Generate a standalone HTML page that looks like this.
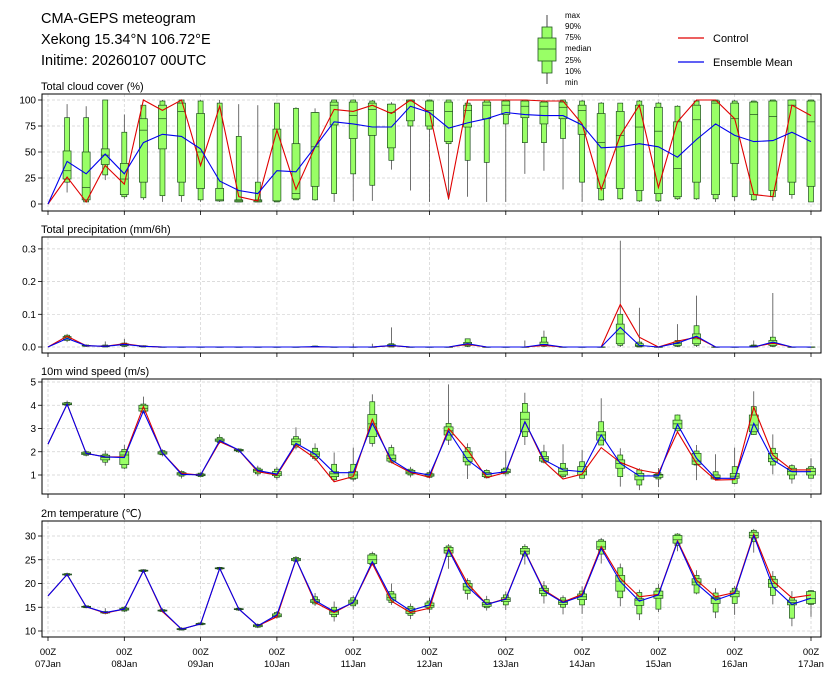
<!DOCTYPE html>
<html><head><meta charset="utf-8">
<style>
html,body{margin:0;padding:0;background:#fff;}
svg{display:block;font-family:"Liberation Sans","DejaVu Sans",sans-serif;}
</style></head>
<body>
<svg id="chart" width="839" height="680" viewBox="0 0 839 680" xmlns="http://www.w3.org/2000/svg">
  <g font-size="14.5" fill="#000">
    <text x="41" y="23">CMA-GEPS meteogram</text>
    <text x="41" y="44">Xekong 15.34°N 106.72°E</text>
    <text x="41" y="65">Initime: 20260107 00UTC</text>
  </g>
  <g>
    <line x1="547" y1="15" x2="547" y2="84" stroke="#444" stroke-width="1"/>
    <rect x="542" y="27" width="10" height="46" fill="#99ff66" stroke="#225522" stroke-width="0.8"/>
    <rect x="538" y="38" width="18" height="23" fill="#99ff66" stroke="#225522" stroke-width="0.8"/>
    <line x1="538" y1="49" x2="556" y2="49" stroke="#225522" stroke-width="0.8"/>
    <g font-size="8" fill="#000">
      <text x="565" y="18">max</text><text x="565" y="29">90%</text><text x="565" y="40">75%</text>
      <text x="565" y="51">median</text><text x="565" y="63">25%</text><text x="565" y="74">10%</text><text x="565" y="85">min</text>
    </g>
  </g>
  <g font-size="11">
    <line x1="678" y1="38" x2="704" y2="38" stroke="#e00000" stroke-width="1.2"/>
    <text x="713" y="42">Control</text>
    <line x1="678" y1="62" x2="704" y2="62" stroke="#0000ee" stroke-width="1.2"/>
    <text x="713" y="66">Ensemble Mean</text>
  </g>
</svg>
<script>
// ---- data ----
const dayLabels = ["07Jan","08Jan","09Jan","10Jan","11Jan","12Jan","13Jan","14Jan","15Jan","16Jan","17Jan"];
const cloudCtrl = [0,26,2,37,19,100,90,100,37,94,7,3,71,14,55,91,89,95,87,100,88,5,100,100,100,100,99,99,77,14,66,95,16,79,100,100,82,9,7,95,85];
const cloudMean = [0,41,29,48,29,59,67,65,53,22,13,10,32,31,55,79,77,74,74,94,88,73,78,82,88,86,85,85,76,54,55,58,55,45,62,77,66,60,61,69,60];
const cloudBox = [null,
 [11,21,24,32,51,83,96],[2,2,4,16,50,83,94],[23,28,38,47,53,100,100],[5,7,9,24,39,69,86],[4,6,21,71,82,95,95],
 [2,8,53,82,95,99,100],[2,8,21,89,97,100,100],[2,4,15,50,87,99,100],[2,3,3,4,15,97,100],[2,2,2,3,4,65,96],
 [2,2,2,3,4,21,95],[2,2,3,3,72,97,97],[4,4,5,10,58,92,93],[3,4,17,55,88,88,92],[2,10,76,95,98,100,100],
 [3,29,63,85,98,100,100],[3,18,66,91,97,99,100],[33,42,54,88,96,96,98],[13,75,80,99,100,100,100],[2,72,75,90,99,100,100],
 [4,58,60,89,98,100,100],[7,42,74,90,95,97,100],[2,40,82,95,98,100,100],[2,77,86,95,99,100,100],[29,59,83,94,99,100,100],
 [32,59,77,94,98,99,99],[14,63,82,93,98,100,100],[2,21,67,90,95,99,100],[3,4,15,59,87,97,98],[4,5,15,66,89,97,97],
 [2,3,13,74,95,99,100],[2,3,10,70,93,97,98],[4,5,7,34,79,94,95],[4,5,21,81,95,99,100],[2,5,9,97,99,100,100],
 [3,7,39,82,97,99,100],[3,4,9,86,98,99,99],[3,7,13,84,99,100,100],[5,9,21,95,100,100,100],[2,2,17,79,99,100,100]];
const precipCtrl = [0,0.033,0.004,0.002,0.01,0.002,0,0,0,0,0,0,0,0,0,0,0,0,0.004,0,0,0,0.008,0,0,0,0.005,0,0,0,0.13,0.03,0,0.018,0.03,0,0,0,0.012,0,0];
const precipMean = [0,0.026,0.004,0.002,0.008,0.002,0,0,0,0,0,0,0,0,0.001,0,0,0,0.005,0,0,0,0.01,0,0,0,0.008,0,0,0,0.06,0.005,0,0.012,0.033,0,0,0,0.015,0,0];
const Z = [0,0,0,0,0,0,0];
const precipBox = [null,
 [0.015,0.02,0.024,0.028,0.032,0.036,0.04],[0,0.002,0.003,0.004,0.005,0.006,0.008],[0,0,0.001,0.002,0.004,0.006,0.017],[0,0.002,0.004,0.007,0.01,0.012,0.025],[0,0,0.001,0.002,0.003,0.004,0.005],
 Z,Z,Z,Z,Z,Z,Z,Z,[0,0,0,0.001,0.002,0.003,0.004],Z,
 [0,0,0,0,0,0,0.01],[0,0,0,0,0,0,0.01],[0,0,0.002,0.004,0.007,0.01,0.06],Z,Z,
 Z,[0,0.002,0.005,0.01,0.014,0.025,0.025],Z,Z,[0,0,0,0,0,0,0.02],
 [0,0.002,0.004,0.008,0.015,0.03,0.05],Z,Z,Z,[0,0.005,0.01,0.04,0.07,0.1,0.325],
 [0,0,0.002,0.005,0.01,0.015,0.12],Z,[0,0.002,0.005,0.01,0.015,0.02,0.07],[0,0.005,0.01,0.025,0.04,0.065,0.157],Z,
 Z,[0,0,0,0.002,0.004,0.006,0.02],[0,0.002,0.005,0.01,0.02,0.03,0.165],Z,Z];
const windCtrl = [2.33,4.05,1.93,1.78,1.78,3.94,1.95,1.07,1.0,2.43,2.07,1.14,1.0,2.29,1.72,0.71,0.93,3.39,1.54,1.11,0.9,3.0,2.07,0.89,1.11,3.29,1.57,0.83,1.04,2.18,1.54,1.22,1.07,2.86,1.5,0.78,0.8,3.91,1.86,1.22,1.22];
const windMean = [2.33,4.05,1.93,1.78,1.75,3.75,1.95,1.03,1.0,2.48,2.07,1.19,1.04,2.36,1.9,1.1,1.1,3.22,1.65,1.14,1.0,2.89,1.65,1.03,1.14,3.29,1.65,1.22,1.14,2.72,1.5,0.96,0.96,3.18,1.72,0.86,0.86,3.22,1.65,1.14,1.14];
const windBox = [null,
 [3.95,4.0,4.02,4.05,4.1,4.12,4.2],[1.8,1.85,1.88,1.93,1.98,2.0,2.05],[1.4,1.55,1.65,1.75,1.85,1.9,2.05],[1.26,1.3,1.45,1.86,2.0,2.1,2.3],[3.65,3.7,3.75,3.87,4.0,4.05,4.37],
 [1.8,1.87,1.9,1.95,2.0,2.05,2.1],[0.85,0.95,1.0,1.05,1.1,1.15,1.2],[0.9,0.93,0.97,1.0,1.04,1.08,1.12],[2.35,2.4,2.45,2.5,2.55,2.62,2.75],[1.95,2.0,2.04,2.07,2.1,2.12,2.15],
 [0.95,1.05,1.12,1.2,1.25,1.3,1.4],[0.8,0.9,0.97,1.05,1.15,1.25,1.35],[2.1,2.2,2.3,2.43,2.55,2.65,3.05],[1.6,1.7,1.8,1.9,2.0,2.15,2.36],[0.72,0.8,0.93,1.05,1.14,1.46,1.97],
 [0.72,0.82,0.86,1.0,1.14,1.46,2.18],[2.22,2.36,2.65,3.2,3.6,4.15,4.47],[1.5,1.55,1.6,1.7,1.86,2.18,2.3],[0.9,1.0,1.05,1.12,1.2,1.25,1.35],[0.85,0.9,0.95,1.0,1.05,1.1,1.2],
 [2.29,2.5,2.72,2.9,3.07,3.22,4.9],[0.83,1.43,1.57,1.75,2.0,2.18,2.36],[0.85,0.88,0.93,1.03,1.1,1.2,1.25],[0.95,1.05,1.1,1.15,1.25,1.3,2.03],[2.29,2.65,2.86,3.4,3.7,4.08,4.54],
 [1.5,1.55,1.6,1.7,1.8,2.0,2.3],[0.86,0.93,1.0,1.15,1.29,1.5,2.32],[0.86,0.86,1.0,1.14,1.36,1.57,2.07],[2.29,2.29,2.5,2.72,2.86,3.29,4.3],[0.5,0.93,1.29,1.5,1.65,1.86,2.15],
 [0.35,0.57,0.79,0.95,1.07,1.22,1.29],[0.48,0.83,0.9,1.0,1.03,1.1,1.3],[2.79,2.9,3.0,3.2,3.36,3.58,3.6],[0.78,1.43,1.46,1.6,1.93,2.03,2.29],[0.76,0.82,0.83,0.9,1.0,1.14,1.89],
 [0.6,0.64,0.86,0.95,1.07,1.36,2.18],[2.72,2.74,2.86,3.15,3.58,3.94,4.6],[1.03,1.43,1.57,1.7,1.93,2.15,2.75],[0.63,0.83,1.0,1.15,1.29,1.4,1.46],[0.86,0.86,1.0,1.15,1.29,1.36,1.72]];
const tempCtrl = [17.4,21.9,15.1,13.8,14.6,22.7,14.1,10.4,11.5,23.2,14.6,11.1,13.0,25.1,16.0,13.9,16.0,24.2,16.3,13.9,14.8,27.4,20.0,15.6,16.8,26.8,18.6,16.1,17.7,27.8,21.1,17.2,17.7,29.0,20.7,17.2,18.1,30.4,20.5,17.0,17.6];
const tempMean = [17.4,21.9,15.1,13.9,14.6,22.7,14.3,10.4,11.5,23.2,14.6,11.1,13.4,25.1,16.4,14.1,16.0,24.6,16.9,14.3,15.5,27.1,19.3,15.6,16.7,26.7,18.4,16.0,17.4,27.4,20.4,16.3,17.6,28.8,20.0,16.5,17.9,30.1,19.3,15.6,16.9];
const tempBox = [null,
 [21.5,21.7,21.8,21.9,22.0,22.1,22.3],[14.8,14.9,15.0,15.1,15.2,15.3,15.4],[13.5,13.7,13.8,13.9,14.0,14.1,14.8],[14.0,14.2,14.4,14.6,14.8,15.0,15.2],[22.3,22.5,22.6,22.7,22.8,22.9,23.0],
 [13.9,14.1,14.2,14.3,14.4,14.5,14.8],[10.1,10.2,10.3,10.4,10.5,10.6,10.8],[11.2,11.3,11.4,11.5,11.6,11.7,11.9],[22.9,23.0,23.1,23.2,23.3,23.4,23.5],[14.2,14.4,14.5,14.6,14.7,14.8,15.0],
 [10.6,10.8,10.9,11.1,11.3,11.4,11.6],[12.6,12.9,13.0,13.2,13.6,13.9,14.2],[24.5,24.7,24.8,25.0,25.3,25.5,25.8],[15.3,15.7,16.0,16.3,16.6,17.2,18.0],[12.0,13.0,13.5,14.0,14.4,15.0,16.2],
 [14.5,15.3,15.7,16.1,16.5,17.0,17.5],[23.8,24.0,24.2,25.0,26.0,26.3,26.7],[15.5,16.0,16.5,17.0,17.8,18.3,20.0],[12.5,13.3,13.7,14.2,14.8,15.2,15.8],[13.8,14.6,15.0,15.4,15.9,16.3,17.0],
 [23.1,25.7,26.4,26.9,27.6,27.9,28.3],[16.6,17.9,18.6,19.3,20.0,20.6,21.1],[14.3,14.9,15.2,15.6,16.0,16.6,17.4],[14.4,15.5,16.2,16.6,17.0,17.6,18.3],[24.0,25.8,26.2,26.8,27.4,27.8,28.3],
 [15.8,17.4,17.9,18.5,19.0,19.5,20.5],[13.5,15.0,15.6,16.0,16.5,17.0,17.5],[13.6,15.5,16.6,17.2,17.8,18.4,19.4],[24.2,26.2,27.2,27.7,28.9,29.2,29.6],[15.2,17.0,18.4,20.5,21.7,23.3,24.2],
 [12.3,13.6,15.4,16.5,16.8,18.1,18.7],[14.0,14.6,16.9,17.5,18.4,19.0,19.9],[26.8,28.0,28.5,29.2,30.1,30.4,30.6],[17.7,18.0,19.7,20.3,21.0,21.7,22.8],[12.7,14.0,15.8,16.8,17.0,18.0,19.0],
 [13.4,15.8,17.2,17.9,18.4,19.0,19.5],[26.5,28.8,29.6,30.1,30.8,31.2,31.5],[15.6,17.5,19.2,20.0,20.9,21.5,22.6],[11.0,12.7,15.5,16.0,16.5,17.0,18.4],[13.0,15.6,15.8,16.8,18.3,18.5,18.6]];
const cloudTicks = [0,25,50,75,100];
const precipTicks = [0,0.1,0.2,0.3];
const windTicks = [1,2,3,4,5];
const tempTicks = [10,15,20,25,30];

// ---- layout ----
const NS = "http://www.w3.org/2000/svg";
const svg = document.getElementById("chart");
const X0 = 48, X1 = 811, LEFT = 42, RIGHT = 821;
function xAt(step){ return X0 + (X1 - X0) * step / 40; }
function mk(tag, attrs, parent){
  const el = document.createElementNS(NS, tag);
  for (const k in attrs) el.setAttribute(k, attrs[k]);
  parent.appendChild(el);
  return el;
}
const panels = [
 {name:"cloud-cover", title:"Total cloud cover (%)", top:94, bottom:211, v0:0, y0:204, ppu:1.04, ticks:cloudTicks, fmt:v=>String(v), ctrl:cloudCtrl, mean:cloudMean, box:cloudBox, bw:8, nw:5},
 {name:"precipitation", title:"Total precipitation (mm/6h)", top:237, bottom:353, v0:0, y0:347, ppu:327, ticks:precipTicks, fmt:v=>v.toFixed(1), ctrl:precipCtrl, mean:precipMean, box:precipBox, bw:8, nw:5},
 {name:"wind-speed", title:"10m wind speed (m/s)", top:379, bottom:494, v0:1, y0:475, ppu:23.25, ticks:windTicks, fmt:v=>String(v), ctrl:windCtrl, mean:windMean, box:windBox, bw:9, nw:5},
 {name:"temperature", title:"2m temperature (\u2103)", top:521, bottom:637, v0:10, y0:631, ppu:4.75, ticks:tempTicks, fmt:v=>String(v), ctrl:tempCtrl, mean:tempMean, box:tempBox, bw:9, nw:5}
];

panels.forEach((p, pi) => {
  const yAt = v => p.y0 - (v - p.v0) * p.ppu;
  const g = mk("g", {}, svg);
  
  

  const t = mk("text", {x:41, y:p.top-4, "font-size":"11"}, g);
  t.textContent = p.title;
  
  

  // grid
  for (let d = 0; d <= 10; d++) {
    const gx = xAt(d*4);
    const gl = mk("line", {x1:gx, x2:gx, y1:p.top, y2:p.bottom, stroke:"#d0d0d0", "stroke-width":0.7, "stroke-dasharray":"3,2"}, g);
    
    
    const tk = mk("line", {x1:gx, x2:gx, y1:p.bottom, y2:p.bottom+4, stroke:"#000", "stroke-width":0.8}, g);
    
    
  }
  p.ticks.forEach(v => {
    const ty = yAt(v);
    const gl = mk("line", {x1:LEFT, x2:RIGHT, y1:ty, y2:ty, stroke:"#d0d0d0", "stroke-width":0.7, "stroke-dasharray":"3,2"}, g);
    
    
    const tk = mk("line", {x1:LEFT-4, x2:LEFT, y1:ty, y2:ty, stroke:"#000", "stroke-width":0.8}, g);
    
    
    const tl = mk("text", {x:LEFT-6, y:ty+3.5, "font-size":"10", "text-anchor":"end"}, g);
    tl.textContent = p.fmt(v);
    
    
  });

  // boxes
  p.box.forEach((b, i) => {
    if (!b) return;
    const cx = xAt(i);
    const bg = mk("g", {}, g);
    
    
    mk("line", {x1:cx, x2:cx, y1:yAt(b[6]), y2:yAt(b[0]), stroke:"#333", "stroke-width":0.7}, bg);
    mk("rect", {x:cx-p.nw/2, y:yAt(b[5]), width:p.nw, height:Math.max(0.3, yAt(b[1])-yAt(b[5])), fill:"#99ff66", stroke:"#1f4d1f", "stroke-width":0.7}, bg);
    mk("rect", {x:cx-p.bw/2, y:yAt(b[4]), width:p.bw, height:Math.max(0.3, yAt(b[2])-yAt(b[4])), fill:"#99ff66", stroke:"#1f4d1f", "stroke-width":0.7}, bg);
    mk("line", {x1:cx-p.bw/2, x2:cx+p.bw/2, y1:yAt(b[3]), y2:yAt(b[3]), stroke:"#1f4d1f", "stroke-width":0.7}, bg);
  });

  // lines
  const mkLine = (arr, color, nm) => {
    const pts = arr.map((v, i) => xAt(i).toFixed(1) + "," + yAt(v).toFixed(1)).join(" ");
    const pl = mk("polyline", {points:pts, fill:"none", stroke:color, "stroke-width":1.1}, g);
    
    
  };
  mkLine(p.ctrl, "#e00000", p.name + '-control-line');
  mkLine(p.mean, "#0000ee", p.name + '-mean-line');

  const fr = mk("rect", {x:LEFT, y:p.top, width:RIGHT-LEFT, height:p.bottom-p.top, fill:"none", stroke:"#000", "stroke-width":1}, g);
  
  
});

// x tick labels under last panel
dayLabels.forEach((d, k) => {
  const tx = xAt(k*4);
  const t1 = mk("text", {x:tx, y:655, "font-size":"9.5", "text-anchor":"middle"}, svg);
  t1.textContent = "00Z";
  
  
  const t2 = mk("text", {x:tx, y:667, "font-size":"9.5", "text-anchor":"middle"}, svg);
  t2.textContent = d;
  
  
});
</script>
</body></html>
